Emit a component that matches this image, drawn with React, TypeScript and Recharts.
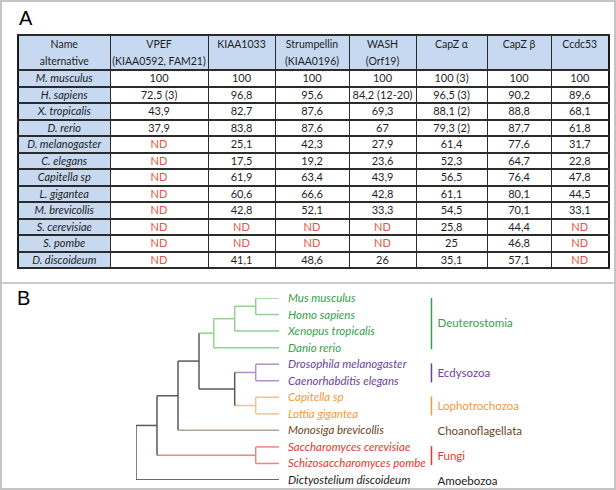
import React from "react";
import { LineChart, Line, XAxis, YAxis } from "recharts";

// ---- Panel A data ----
const species = [
  "M. musculus",
  "H. sapiens",
  "X. tropicalis",
  "D. rerio",
  "D. melanogaster",
  "C. elegans",
  "Capitella sp",
  "L. gigantea",
  "M. brevicollis",
  "S. cerevisiae",
  "S. pombe",
  "D. discoideum",
];
const headerTop = ["Name", "VPEF", "KIAA1033", "Strumpellin", "WASH", "CapZ α", "CapZ β", "Ccdc53"];
const headerSub = ["alternative", "(KIAA0592, FAM21)", "", "(KIAA0196)", "(Orf19)", "", "", ""];

const vpef = ["100", "72,5 (3)", "43,9", "37,9", "ND", "ND", "ND", "ND", "ND", "ND", "ND", "ND"];
const kiaa1033 = ["100", "96,8", "82,7", "83,8", "25,1", "17,5", "61,9", "60,6", "42,8", "ND", "ND", "41,1"];
const strumpellin = ["100", "95,6", "87,6", "87,6", "42,3", "19,2", "63,4", "66,6", "52,1", "ND", "ND", "48,6"];
const wash = ["100", "84,2 (12-20)", "69,3", "67", "27,9", "23,6", "43,9", "42,8", "33,3", "ND", "ND", "26"];
const capzA = ["100 (3)", "96,5 (3)", "88,1 (2)", "79,3 (2)", "61,4", "52,3", "56,5", "61,1", "54,5", "25,8", "25", "35,1"];
const capzB = ["100", "90,2", "88,8", "87,7", "77,6", "64,7", "76,4", "80,1", "70,1", "44,4", "46,8", "57,1"];
const ccdc53 = ["100", "89,6", "68,1", "61,8", "31,7", "22,8", "47,8", "44,5", "33,1", "ND", "ND", "ND"];

// ---- Panel B data ----
const leaves = [
  "Mus musculus",
  "Homo sapiens",
  "Xenopus tropicalis",
  "Danio rerio",
  "Drosophila melanogaster",
  "Caenorhabditis elegans",
  "Capitella sp",
  "Lottia gigantea",
  "Monosiga brevicollis",
  "Saccharomyces cerevisiae",
  "Schizosaccharomyces pombe",
  "Dictyostelium discoideum",
];
const leafClade = ["deut", "deut", "deut", "deut", "ecd", "ecd", "loph", "loph", "choano", "fungi", "fungi", "amoeba"];
const LEAF_DEPTH = 6.81;

// internal nodes, listed children-first
const treeNodes = [
  { id: "mammalia", depth: 5.7, clade: "deut", children: ["Mus musculus", "Homo sapiens"] },
  { id: "tetrapoda", depth: 4.7, clade: "deut", children: ["mammalia", "Xenopus tropicalis"] },
  { id: "vertebrata", depth: 3.7, clade: "deut", children: ["tetrapoda", "Danio rerio"] },
  { id: "ecdysozoa", depth: 5.7, clade: "ecd", children: ["Drosophila melanogaster", "Caenorhabditis elegans"] },
  { id: "lophotrochozoa", depth: 5.7, clade: "loph", children: ["Capitella sp", "Lottia gigantea"] },
  { id: "protostomia", depth: 4.7, clade: "base", children: ["ecdysozoa", "lophotrochozoa"] },
  { id: "bilateria", depth: 3, clade: "base", children: ["vertebrata", "protostomia"] },
  { id: "holozoa", depth: 2, clade: "base", children: ["bilateria", "Monosiga brevicollis"] },
  { id: "fungi", depth: 5.7, clade: "fungi", children: ["Saccharomyces cerevisiae", "Schizosaccharomyces pombe"] },
  { id: "opisthokonta", depth: 1, clade: "base", children: ["holozoa", "fungi"] },
  { id: "root", depth: 0, clade: "base", children: ["opisthokonta", "Dictyostelium discoideum"] },
];

const groupNames = ["Deuterostomia", "Ecdysozoa", "Lophotrochozoa", "Choanoflagellata", "Fungi", "Amoebozoa"];
const groupClade = ["deut", "ecd", "loph", "choano", "fungi", "amoeba"];
const groupHasBar = [true, true, true, false, true, false];

const lineColor: Record<string, string> = {
  base: "#5a5a5a",
  deut: "#92d192",
  ecd: "#b58ccb",
  loph: "#f8c088",
  choano: "#b3a293",
  fungi: "#f2857a",
  amoeba: "#3a3a3a",
};
const textColor: Record<string, string> = {
  deut: "#35a04a",
  ecd: "#6e3f9c",
  loph: "#f39a3a",
  choano: "#6b4527",
  fungi: "#e8392e",
  amoeba: "#1a1a1a",
};

const GROUP_X = 14.07;

function buildTree() {
  const pos: Record<string, { x: number; y: number }> = {};
  leaves.forEach((l, i) => (pos[l] = { x: LEAF_DEPTH, y: i }));
  const parentOf: Record<string, string> = {};
  treeNodes.forEach((n) => {
    const ys = n.children.map((c) => pos[c].y);
    pos[n.id] = { x: n.depth, y: (Math.min(...ys) + Math.max(...ys)) / 2 };
    n.children.forEach((c) => (parentOf[c] = n.id));
  });
  const segs: { key: string; color: string; data: { x: number; y: number }[]; leaf?: number }[] = [];
  treeNodes.forEach((n) => {
    const ys = n.children.map((c) => pos[c].y);
    segs.push({
      key: "v-" + n.id,
      color: lineColor[n.clade],
      data: [
        { x: n.depth, y: Math.min(...ys) },
        { x: n.depth, y: Math.max(...ys) },
      ],
    });
    if (parentOf[n.id]) {
      const p = pos[parentOf[n.id]];
      segs.push({
        key: "h-" + n.id,
        color: lineColor[n.clade],
        data: [
          { x: p.x, y: pos[n.id].y },
          { x: n.depth, y: pos[n.id].y },
        ],
      });
    }
  });
  leaves.forEach((l, i) => {
    const p = pos[parentOf[l]];
    segs.push({
      key: "leaf-" + i,
      color: lineColor[leafClade[i]],
      leaf: i,
      data: [
        { x: p.x, y: i },
        { x: LEAF_DEPTH, y: i },
      ],
    });
  });
  return segs;
}

function Table() {
  const cols = [vpef, kiaa1033, strumpellin, wash, capzA, capzB, ccdc53];
  const widths = [92, 98, 67, 74, 67, 71, 64, 58];
  const bd = "2px solid #2b2b2b";
  const cell: React.CSSProperties = {
    borderTop: bd,
    borderBottom: bd,
    borderLeft: "1.5px solid #2b2b2b",
    borderRight: "1.5px solid #2b2b2b",
    textAlign: "center",
    padding: 0,
    height: 14.5,
    lineHeight: "14px",
  };
  return (
    <table
      style={{
        position: "absolute",
        left: 15,
        top: 32,
        width: 591,
        borderCollapse: "collapse",
        tableLayout: "fixed",
        fontFamily: "Lato, 'Open Sans', sans-serif",
        fontSize: 11,
        color: "#1e1e1e",
        border: "2.5px solid #1a1a1a",
      }}
    >
      <colgroup>
        {widths.map((w, i) => (
          <col key={i} style={{ width: w }} />
        ))}
      </colgroup>
      <thead>
        <tr>
          {headerTop.map((h, i) => (
            <th
              key={i}
              style={{
                ...cell,
                height: 30,
                background: "#c6d9f0",
                fontWeight: 400,
                verticalAlign: "top",
                fontSize: 10.5,
                lineHeight: "16.5px",
                paddingTop: 0,
              }}
            >
              {h}
              <br />
              {headerSub[i]}
            </th>
          ))}
        </tr>
      </thead>
      <tbody>
        {species.map((s, r) => (
          <tr key={s}>
            <td style={{ ...cell, background: "#c6d9f0", fontStyle: "italic" }}>{s}</td>
            {cols.map((c, k) => (
              <td key={k} style={{ ...cell, color: c[r] === "ND" ? "#e8543e" : "#1e1e1e" }}>
                {c[r]}
              </td>
            ))}
          </tr>
        ))}
      </tbody>
    </table>
  );
}

function Tree() {
  const segs = buildTree();
  return (
    <div style={{ position: "absolute", left: 0, top: 283 }}>
      <LineChart width={616} height={207} margin={{ top: 13, right: 20, bottom: 12, left: 134 }}>
        <XAxis type="number" dataKey="x" domain={[0, 22]} hide allowDataOverflow />
        <YAxis type="number" dataKey="y" domain={[0, 11]} reversed hide allowDataOverflow />
        {segs.map((s) => (
          <Line
            key={s.key}
            data={s.data}
            dataKey="y"
            type="linear"
            stroke={s.color}
            strokeWidth={1.5}
            dot={false}
            activeDot={false}
            isAnimationActive={false}
            label={(p: any) =>
              s.leaf !== undefined && p.index === 1 ? (
                <text
                  key={"lbl" + s.key}
                  x={p.x + 9}
                  y={p.y}
                  dy={4}
                  fontFamily="Lato, 'Open Sans', sans-serif"
                  fontStyle="italic"
                  fontSize={11.5}
                  fill={textColor[leafClade[s.leaf]]}
                >
                  {leaves[s.leaf]}
                </text>
              ) : (
                <g key={"n" + s.key + p.index} />
              )
            }
          />
        ))}
        {groupNames.map((g, i) => {
          const idx = leaves.map((_, k) => k).filter((k) => leafClade[k] === groupClade[i]);
          const a = Math.min(...idx);
          const b = Math.max(...idx);
          return (
            <Line
              key={"grp" + g}
              data={[
                { x: GROUP_X, y: a - 0.05 },
                { x: GROUP_X, y: (a + b) / 2 },
                { x: GROUP_X, y: b + 0.1 },
              ]}
              dataKey="y"
              type="linear"
              stroke={groupHasBar[i] ? textColor[groupClade[i]] : "none"}
              strokeWidth={1.5}
              dot={false}
              activeDot={false}
              isAnimationActive={false}
              label={(p: any) =>
                p.index === 1 ? (
                  <text
                    key={"gl" + g}
                    x={p.x + 6}
                    y={p.y}
                    dy={4.5}
                    fontFamily="Lato, 'Open Sans', sans-serif"
                    fontSize={11.5}
                    fill={textColor[groupClade[i]]}
                  >
                    {g}
                  </text>
                ) : (
                  <g key={"gn" + g + p.index} />
                )
              }
            />
          );
        })}
      </LineChart>
    </div>
  );
}

export default function App() {
  return (
    <div
      style={{
        position: "absolute",
        left: 0,
        top: 0,
        width: 616,
        height: 490,
        boxSizing: "border-box",
        border: "2px solid #c4c4c4",
        background: "#fff",
        overflow: "hidden",
      }}
    >
      <div
        style={{
          position: "absolute",
          left: 17,
          top: 5,
          fontFamily: "'Liberation Sans', Arial, sans-serif",
          fontSize: 20,
        }}
      >
        A
      </div>
      <Table />
      <div style={{ position: "absolute", left: 0, top: 280, width: 616, height: 0, borderTop: "2px solid #cccccc" }} />
      <div
        style={{
          position: "absolute",
          left: 15,
          top: 285,
          fontFamily: "'Liberation Sans', Arial, sans-serif",
          fontSize: 20,
        }}
      >
        B
      </div>
      <Tree />
    </div>
  );
}
